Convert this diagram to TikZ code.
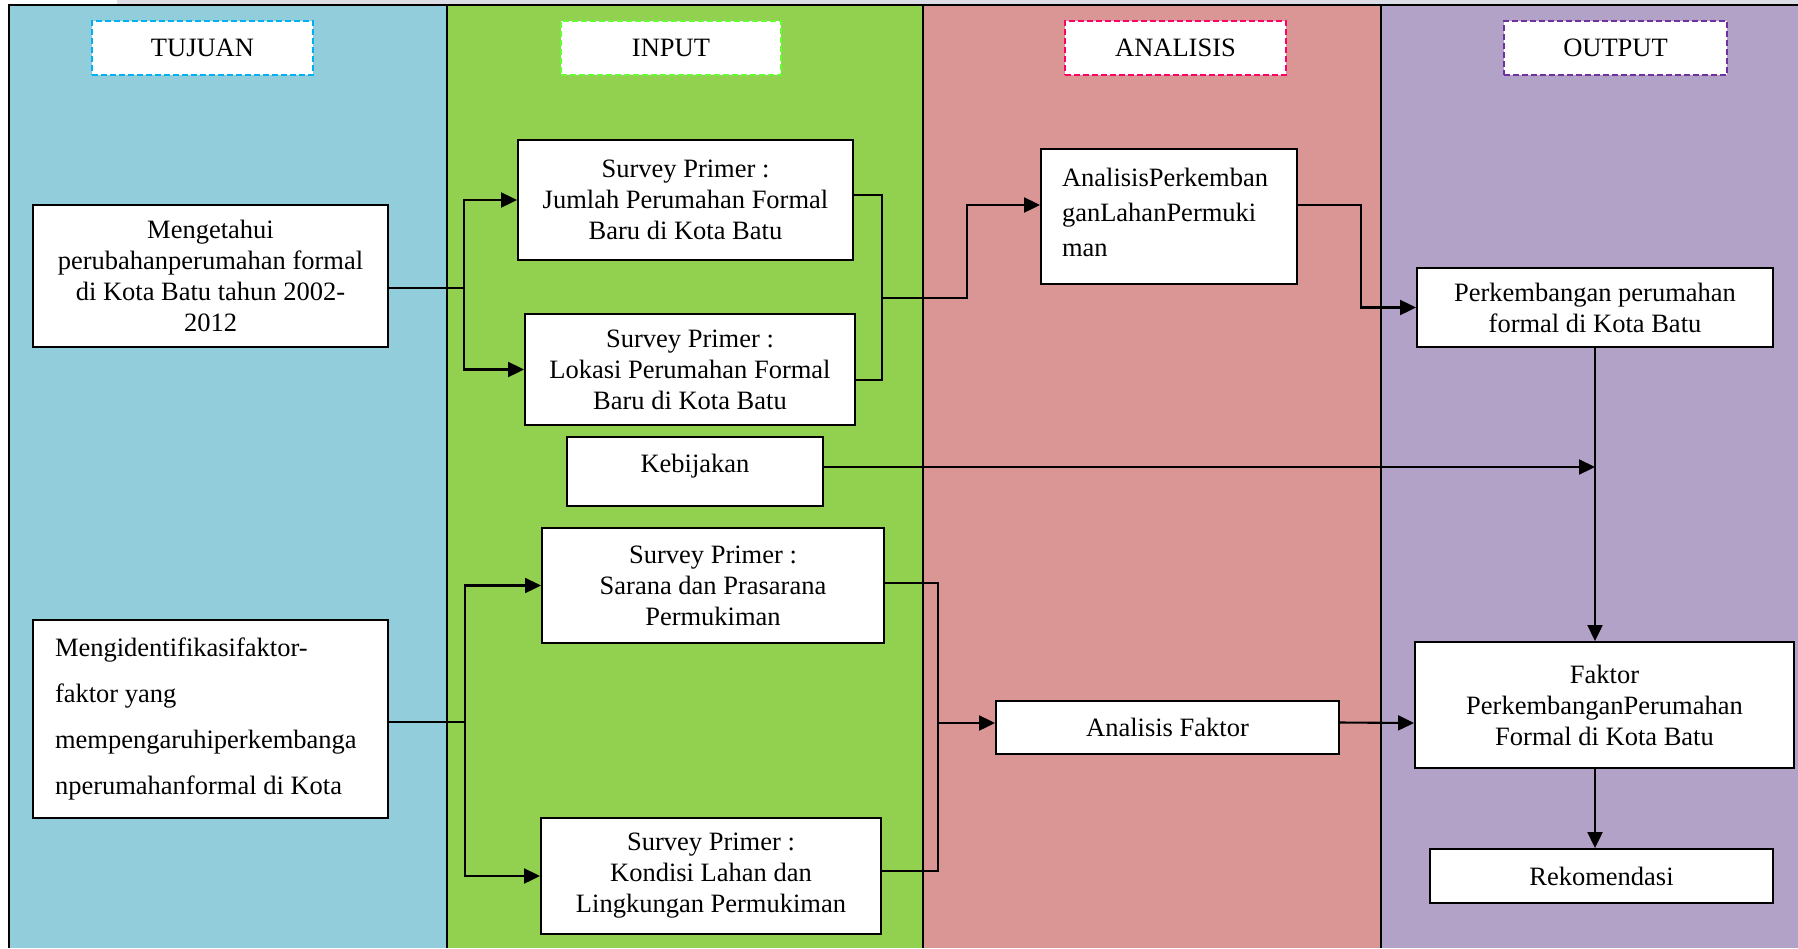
\documentclass[tikz,border=0pt]{standalone}
\usepackage{fontspec}
\setmainfont{Liberation Serif}
\usetikzlibrary{arrows.meta}
\definecolor{cTuj}{HTML}{92CDDC}
\definecolor{cInp}{HTML}{92D050}
\definecolor{cAna}{HTML}{D99694}
\definecolor{cOut}{HTML}{B2A2C7}
\definecolor{dTuj}{HTML}{00B0F0}
\definecolor{dInp}{HTML}{66FF33}
\definecolor{dAna}{HTML}{FF0066}
\definecolor{dOut}{HTML}{7030A0}
\definecolor{topgray}{HTML}{DCDCE4}
\begin{document}
\begin{tikzpicture}[x=1pt,y=-1pt,
  txt/.style={font=\fontsize{26.5}{31}\selectfont},
  box/.style={txt, draw=black, fill=white, line width=1.9pt, inner sep=0pt, align=center},
  hdr/.style={txt, fill=white, line width=1.8pt, dash pattern=on 6pt off 3pt, inner sep=0pt, minimum height=54pt},
  panel/.style={draw=black, line width=1.8pt},
  conn/.style={draw=black, line width=2.1pt},
  arr/.style={conn, -{Triangle[length=16pt,width=15pt]}}
]
\useasboundingbox (0,0) rectangle (1798,948);
% top strip
\fill[topgray] (117,0) rectangle (1798,4);
% panels
\fill[cTuj] (9,5) rectangle (447,948);
\fill[cInp] (447,5) rectangle (923,948);
\fill[cAna] (923,5) rectangle (1381,948);
\fill[cOut] (1381,5) rectangle (1798,948);
\draw[panel] (9,948) -- (9,5) -- (1798,5);
\draw[panel] (447,5) -- (447,948);
\draw[panel] (923,5) -- (923,948);
\draw[panel] (1381,5) -- (1381,948);

% headers
\node[hdr, draw=dTuj, minimum width=221pt] (h1) at (202.5,48) {TUJUAN};
\node[hdr, draw=dInp, minimum width=220pt] (h2) at (671,48) {INPUT};
\node[hdr, draw=dAna, minimum width=221pt] (h3) at (1175.5,48) {ANALISIS};
\node[hdr, draw=dOut, minimum width=223pt] (h4) at (1615.5,48) {OUTPUT};

% TUJUAN boxes
\node[box, minimum width=355pt, minimum height=142pt] (t1) at (210.5,276)
  {Mengetahui\\perubahanperumahan formal\\di Kota Batu tahun 2002-\\2012};
\node[box, minimum width=355pt, minimum height=198pt, align=left,
  font=\fontsize{26.5}{46}\selectfont] (t2) at (210.5,719)
  {\parbox{311pt}{\raggedright Mengidentifikasifaktor-\\faktor yang\\mempengaruhiperkembanga\\nperumahanformal di Kota}};

% INPUT boxes
\node[box, minimum width=335pt, minimum height=120pt] (s1) at (685.5,200)
  {Survey Primer :\\Jumlah Perumahan Formal\\Baru di Kota Batu};
\node[box, minimum width=330pt, minimum height=111pt] (s2) at (690,369.5)
  {Survey Primer :\\Lokasi Perumahan Formal\\Baru di Kota Batu};
\node[box, minimum width=256pt, minimum height=69pt] (kb) at (695,471.5)
  {\raisebox{16pt}{Kebijakan}};
\node[box, minimum width=342pt, minimum height=115pt] (s3) at (713,585.5)
  {Survey Primer :\\Sarana dan Prasarana\\Permukiman};
\node[box, minimum width=340pt, minimum height=116pt] (s4) at (711,876)
  {Survey Primer :\\Kondisi Lahan dan\\Lingkungan Permukiman};

% ANALISIS boxes
\node[box, minimum width=256pt, minimum height=135pt, align=left,
  font=\fontsize{26.5}{35}\selectfont] (a1) at (1169,216.5)
  {\raisebox{8pt}{\parbox[b]{214pt}{AnalisisPerkemban\\ganLahanPermuki\\man}}};
\node[box, minimum width=343pt, minimum height=53pt] (a2) at (1167.5,727.5)
  {Analisis Faktor};

% OUTPUT boxes
\node[box, minimum width=356pt, minimum height=79pt] (o1) at (1595,307.5)
  {Perkembangan perumahan\\formal di Kota Batu};
\node[box, minimum width=379pt, minimum height=126pt] (o2) at (1604.5,705)
  {Faktor\\PerkembanganPerumahan\\Formal di Kota Batu};
\node[box, minimum width=343pt, minimum height=54pt] (o3) at (1601.5,876)
  {Rekomendasi};

% connectors group 1
\coordinate (j1) at (464,288);
\draw[conn] (t1.east |- j1) -- (j1);
\draw[arr] (j1) |- (s1.west);
\draw[arr] (j1) |- (s2.west);
\coordinate (m1) at (882,298);
\coordinate (m2) at (967,298);
\draw[conn] ([yshift=5pt]s1.east) -| (m1) |- ([yshift=-10.5pt]s2.east);
\draw[arr] (m1) -- (m2) |- ([yshift=11.5pt]a1.west);
\coordinate (m3) at (1361,307.5);
\draw[arr] ([yshift=11.5pt]a1.east) -| (m3) -- (o1.west);
\coordinate (k1) at (1595,467);
\draw[arr] ([yshift=4.5pt]kb.east) -- (k1);
\draw[arr] (o1.south) -- (o1.south |- o2.north);
\draw[arr] (o1.south |- o2.south) -- (o1.south |- o3.north);

% connectors group 2
\coordinate (j2) at (465,722);
\draw[conn] (t2.east |- j2) -- (j2);
\draw[arr] (j2) |- (s3.west);
\draw[arr] (j2) |- (s4.west);
\coordinate (m4) at (938,723);
\draw[conn] ([yshift=2.5pt]s3.east) -| (m4) |- ([yshift=5pt]s4.east);
\draw[arr] (m4) -- ([yshift=4.5pt]a2.west);
\draw[arr] ([yshift=5pt]a2.east) -- ([yshift=-18pt]o2.west);
\end{tikzpicture}
\end{document}
